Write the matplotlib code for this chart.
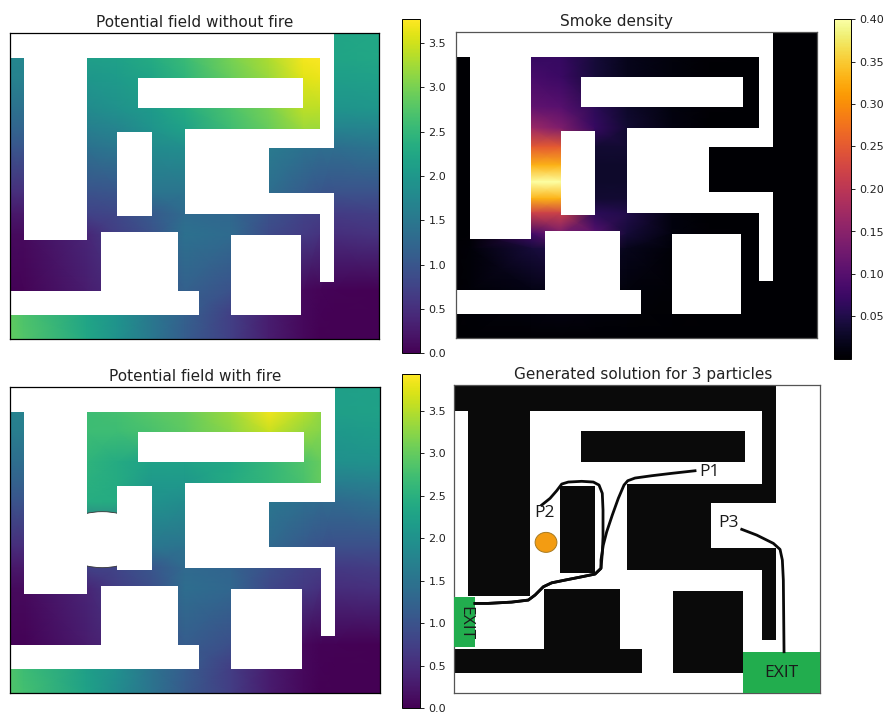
import numpy as np
import matplotlib
matplotlib.use('Agg')
import matplotlib.pyplot as plt
from matplotlib.patches import Rectangle, Ellipse

plt.rcParams['font.family'] = 'DejaVu Sans'

W, H = 887, 713

# maze walls: x0, x1, y0, y1 (map units, y going down)
walls = [
    (0, 972, 0, 76), (929, 972, 0, 345), (40, 229, 0, 620),
    (382, 878, 135, 225), (320, 425, 296, 550),
    (523, 775, 289, 543), (775, 972, 289, 345), (775, 972, 479, 543),
    (929, 972, 479, 747), (272, 502, 598, 773), (0, 566, 773, 845),
    (661, 872, 605, 845),
]

xs = [0, 40, 229, 320, 425, 523, 661, 775, 878, 929, 972, 1107]
ys = [0, 76, 135, 225, 289, 345, 479, 543, 605, 773, 845, 918]

pot_nofire = [
    [1.75, 1.75, 2.1, 2.15, 2.3, 2.55, 3.0, 3.3, 3.7, 3.75, 2.2, 2.25],
    [1.75, 1.75, 2.1, 2.15, 2.3, 2.55, 3.0, 3.3, 3.7, 3.75, 2.2, 2.25],
    [1.65, 1.65, 2.0, 2.05, 2.2, 2.45, 2.9, 3.2, 3.6, 3.65, 2.1, 2.15],
    [1.4, 1.4, 1.8, 1.9, 2.05, 2.3, 2.7, 3.0, 3.4, 3.4, 1.95, 2.0],
    [1.2, 1.2, 1.6, 1.7, 1.95, 2.15, 2.6, 2.9, 3.2, 3.2, 1.65, 1.7],
    [1.0, 1.0, 1.4, 1.5, 1.8, 1.85, 1.5, 1.55, 1.4, 1.35, 1.35, 1.45],
    [0.5, 0.5, 0.95, 1.0, 1.45, 1.45, 1.3, 1.35, 1.1, 1.0, 0.95, 0.95],
    [0.25, 0.25, 0.75, 0.8, 1.05, 1.3, 1.25, 0.95, 0.75, 0.7, 0.65, 0.7],
    [0.1, 0.1, 0.4, 0.7, 0.95, 1.4, 1.3, 0.85, 0.65, 0.55, 0.5, 0.55],
    [0.02, 0.03, 0.3, 0.45, 1.0, 1.15, 0.95, 0.5, 0.08, 0.03, 0.02, 0.0],
    [2.85, 2.7, 2.2, 1.95, 1.5, 1.15, 0.7, 0.3, 0.08, 0.02, 0.0, 0.0],
    [2.85, 2.75, 2.25, 1.9, 1.5, 1.1, 0.7, 0.3, 0.08, 0.0, 0.0, 0.0],
]

pot_fire = [
    [1.75, 1.75, 2.7, 2.75, 2.9, 3.0, 3.35, 3.85, 3.5, 3.3, 2.2, 2.25],
    [1.75, 1.75, 2.7, 2.75, 2.9, 3.0, 3.35, 3.85, 3.5, 3.3, 2.2, 2.25],
    [1.65, 1.65, 2.7, 2.7, 2.8, 2.95, 3.25, 3.6, 3.3, 3.2, 2.1, 2.15],
    [1.4, 1.4, 2.55, 2.4, 2.25, 2.25, 2.35, 2.6, 2.85, 3.0, 1.95, 2.0],
    [1.2, 1.2, 2.5, 2.4, 2.1, 2.1, 2.4, 2.6, 2.8, 3.0, 1.65, 1.7],
    [1.0, 1.0, 2.45, 2.4, 2.0, 1.9, 1.5, 1.55, 1.4, 1.35, 1.35, 1.45],
    [0.5, 0.5, 0.95, 1.0, 1.55, 1.5, 1.3, 1.35, 1.1, 1.0, 0.95, 0.95],
    [0.25, 0.25, 0.75, 0.8, 1.05, 1.35, 1.25, 0.95, 0.75, 0.7, 0.65, 0.7],
    [0.1, 0.1, 0.4, 0.7, 0.95, 1.4, 1.3, 0.85, 0.65, 0.55, 0.5, 0.55],
    [0.02, 0.03, 0.3, 0.45, 1.0, 1.15, 0.95, 0.5, 0.08, 0.03, 0.02, 0.0],
    [2.85, 2.7, 2.2, 1.95, 1.5, 1.15, 0.7, 0.3, 0.08, 0.02, 0.0, 0.0],
    [2.85, 2.75, 2.25, 1.9, 1.5, 1.1, 0.7, 0.3, 0.08, 0.0, 0.0, 0.0],
]

smoke_x = [0, 40, 229, 320, 425, 523, 661, 775, 1107]
smoke_y = [0, 76, 135, 225, 289, 345, 400, 450, 500, 543, 605, 650, 773, 918]
smoke = [
    [0, 0, 0.07, 0.07, 0.04, 0.02, 0.008, 0.002, 0],
    [0, 0, 0.07, 0.07, 0.04, 0.02, 0.008, 0.002, 0],
    [0, 0, 0.085, 0.075, 0.04, 0.02, 0.008, 0.002, 0],
    [0, 0, 0.11, 0.10, 0.06, 0.03, 0.01, 0.002, 0],
    [0, 0, 0.17, 0.14, 0.07, 0.035, 0.012, 0, 0],
    [0, 0, 0.25, 0.25, 0.035, 0.035, 0.005, 0, 0],
    [0, 0, 0.33, 0.33, 0.03, 0.03, 0.005, 0, 0],
    [0, 0, 0.40, 0.40, 0.03, 0.03, 0.005, 0, 0],
    [0, 0, 0.33, 0.33, 0.035, 0.035, 0.005, 0, 0],
    [0, 0, 0.22, 0.22, 0.06, 0.05, 0.01, 0, 0],
    [0, 0.002, 0.08, 0.13, 0.10, 0.04, 0.01, 0.002, 0],
    [0.003, 0.005, 0.04, 0.05, 0.04, 0.02, 0.006, 0.002, 0],
    [0.003, 0.005, 0.015, 0.02, 0.012, 0.008, 0.004, 0.002, 0],
    [0, 0, 0, 0, 0, 0, 0, 0, 0],
]

path_tail = [(443, 537.6), (425, 554.3), (384.8, 562.3), (334.3, 572), (294, 580),
             (268.6, 591.6), (243.5, 616), (223.2, 630.6), (173, 636.5), (101.3, 640.3), (62, 640.3)]
path_p1 = [(727.5, 251.4), (657, 259), (596.5, 266), (546, 272.8), (524, 280.7), (512.7, 293.3),
           (495.5, 332.3), (477.3, 381.3), (460.4, 430.3), (450, 469.3), (443, 513.3)] + path_tail
path_p2 = [(263.8, 352), (289, 332.3), (309, 310), (324.3, 290.4), (344.2, 284.5), (384.8, 282.4),
           (419.9, 284.5), (437.1, 293.3), (447, 317.6), (449.2, 366.6), (449.2, 445), (447, 493.6)] + path_tail
path_p3 = [(868.8, 423.2), (914, 440), (964.4, 464.3), (984.6, 482), (991.6, 513.3), (994.6, 572), (996.7, 782)]

exits = [(0, 62, 621, 768), (873.7, 1107, 782, 903)]
fire_center = (276.8, 461.4)


def ax_px(x0, x1, y0, y1):
    return fig.add_axes([x0 / W, 1 - y1 / H, (x1 - x0) / W, (y1 - y0) / H])


def maze_ax(box, title, color='black', ymax=918, title_x=0.5):
    ax = ax_px(*box)
    ax.set_xlim(0, 1107)
    ax.set_ylim(ymax, 0)
    ax.set_xticks([])
    ax.set_yticks([])
    ax.set_title(title, fontsize=11, color='#222222', pad=4, x=title_x)
    for s in ax.spines.values():
        s.set_color(color)
        s.set_linewidth(0.9)
    return ax


def add_walls(ax, color):
    for x0, x1, y0, y1 in walls:
        ax.add_patch(Rectangle((x0, y0), x1 - x0, y1 - y0, fc=color, ec='none', zorder=2))


def add_cbar(m, box, ticks):
    cax = ax_px(*box)
    cb = fig.colorbar(m, cax=cax, ticks=ticks)
    cb.ax.tick_params(labelsize=8, length=3, width=0.7, colors='#222222', pad=3)
    cb.outline.set_linewidth(0.7)
    return cb


fig = plt.figure(figsize=(W / 100, H / 100), dpi=100)
pot_ticks = [0.0, 0.5, 1.0, 1.5, 2.0, 2.5, 3.0, 3.5]

# without fire
ax1 = maze_ax((10.5, 379.5, 33, 339), 'Potential field without fire')
m1 = ax1.pcolormesh(xs, ys, np.array(pot_nofire), shading='gouraud', cmap='viridis', vmin=0, vmax=3.77)
add_walls(ax1, 'white')
add_cbar(m1, (402, 420, 19, 353.5), pot_ticks)

# smoke
ax2 = maze_ax((456.5, 817.5, 32, 338), 'Smoke density', color='#555555', title_x=0.442)
m2 = ax2.pcolormesh(smoke_x, smoke_y, np.array(smoke), shading='gouraud', cmap='inferno', vmin=0, vmax=0.40)
add_walls(ax2, 'white')
add_cbar(m2, (834, 851, 19, 359), [0.05, 0.10, 0.15, 0.20, 0.25, 0.30, 0.35, 0.40])

# with fire
ax3 = maze_ax((10.5, 380, 387, 693), 'Potential field with fire')
m3 = ax3.pcolormesh(xs, ys, np.array(pot_fire), shading='gouraud', cmap='viridis', vmin=0, vmax=3.93)
add_walls(ax3, 'white')
hole = Ellipse((275, 458), 270, 168, fc='white', ec='#333333', lw=0.6, zorder=3)
ax3.add_patch(hole)
hole.set_clip_path(Rectangle((229, 0), 91, 918, transform=ax3.transData))
add_cbar(m3, (402, 420, 374, 708), pot_ticks)

# solution
ax4 = maze_ax((454.5, 820.5, 385, 693), 'Generated solution for 3 particles', color='#555555', ymax=903, title_x=0.515)
add_walls(ax4, '#0a0a0a')
for x0, x1, y0, y1 in exits:
    ax4.add_patch(Rectangle((x0, y0), x1 - x0, y1 - y0, fc='#22ad4e', ec='none', zorder=3))
for p in (path_p1, path_p2, path_p3):
    px, py = zip(*p)
    ax4.plot(px, py, color='#0a0a0a', lw=2.0, solid_joinstyle='round', zorder=4)
ax4.add_patch(Ellipse(fire_center, 66, 58.6, fc='#f39c12', ec='#a87a20', lw=0.7, zorder=4))

lab = dict(family='Open Sans', fontsize=12.5, color='#1a1a1a', ha='center', va='center', zorder=5)
ax4.text(770, 255, 'P1', **lab)
ax4.text(271.7, 376.4, 'P2', **lab)
ax4.text(828, 403.9, 'P3', **lab)
ax4.text(987.9, 843.8, 'EXIT', **lab)
ax4.text(31.8, 697, 'EXIT', rotation=-90, **lab)

fig.savefig('out.png', dpi=100)
